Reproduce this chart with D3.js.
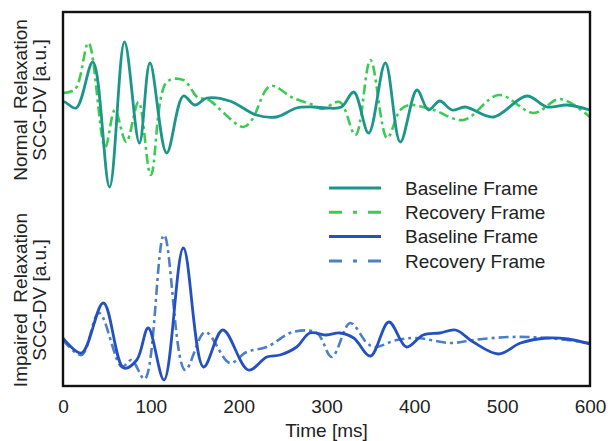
<!DOCTYPE html>
<html>
<head>
<meta charset="utf-8">
<script src="https://cdn.jsdelivr.net/npm/d3@7"></script>
<style>
  body { margin: 0; background: #fff; }
  text { font-family: "Liberation Sans", Arial, sans-serif; fill: #222; }
</style>
</head>
<body>
<div id="my_dataviz"></div>
<script>
var width = 608,
    height = 441,
    frame = {left: 63, right: 590, top: 12, bottom: 386},
    fontSize = "19px";

// time axis ticks
var xTicks = [0, 100, 200, 300, 400, 500, 600];

// Normal relaxation - baseline frame (solid teal)
var normBaseT = [0, 2, 15, 34, 53, 70, 87, 99, 118, 137, 150, 164, 190, 220, 243, 266, 285, 300, 317, 331, 348, 367, 384, 403, 416, 429, 443, 458, 490, 528, 551, 574, 600];
var normBaseV = [0.3, 0.3, -0.3, 4.3, -8.2, 6.3, -3.8, 4.2, -4.8, 0.9, 0, 0.7, 0.4, -1, -1.2, -0.3, -0.2, -0.3, -0.2, 1.3, -2.8, 4.2, -3.7, 1.5, -0.5, 0.4, -0.5, -0.2, -1.2, 0.9, -0.2, 0, -0.5];

// Normal relaxation - recovery frame (dash-dot green)
var normRecT = [0, 14, 29, 48, 59, 72, 86, 100, 118, 137, 154, 164, 205, 215, 236, 262, 285, 295, 315, 333, 350, 369, 384, 395, 422, 456, 496, 536, 566, 600];
var normRecV = [1.2, 1.6, 6.2, -4.2, -0.5, -3.7, 0.3, -7, 2.3, 2.5, 0.7, 0.6, -2.2, -1.5, 1.9, 0.7, 0, -0.4, 0.3, -3, 4.5, -3.3, -0.5, 0, -0.5, -1.5, 1, -0.8, 0.6, -1.2];

// Impaired relaxation - baseline frame (solid blue)
var impBaseT = [0, 21, 46, 69, 84, 97, 115, 137, 160, 182, 211, 232, 247, 266, 281, 300, 315, 331, 350, 371, 391, 410, 429, 447, 467, 496, 521, 551, 575, 600];
var impBaseV = [0.2, -1.3, 3.7, -2.8, -2, 1.2, -4, 9.2, -2.7, 1, -3, -1.7, -1.5, -0.7, 0.7, 0.5, 0.7, 0.2, -1.6, 1.8, -0.7, 0.5, 0.7, 1, -0.2, -1.4, -0.3, 0.2, 0.1, -0.4];

// Impaired relaxation - recovery frame (dash-dot light blue)
var impRecT = [0, 21, 41, 67, 78, 93, 115, 139, 162, 190, 209, 232, 262, 289, 306, 327, 346, 355, 380, 403, 441, 467, 509, 552, 600];
var impRecV = [0, -1.5, 2.7, -2.7, -2, -3.9, 10.5, -3, 0.8, -2.3, -1.2, -0.7, 0.8, 0.7, -1.7, 1.7, -0.3, -0.7, 0, 0.2, -0.3, 0, 0.3, 0.2, -0.3];

var legendLabels = ["Baseline Frame", "Recovery Frame", "Baseline Frame", "Recovery Frame"];

var cTeal = "#1c9688", cGreen = "#3ccb52", cBlue = "#2450c0", cLight = "#4d7fc6";
var dashDot = "10,4,3,4";

var svg = d3.select("#my_dataviz")
    .append("svg")
    .attr("width", width)
    .attr("height", height);

var x = d3.scaleLinear().domain([0, 600]).range([frame.left, frame.right]);
var yTop = d3.scaleLinear().domain([-9, 9]).range([195, 15]);
var yBot = d3.scaleLinear().domain([-5, 12]).range([390, 220]);

function zipT(t, v) { return t.map(function(d, i) { return [d, v[i]]; }); }

function drawLine(t, v, y, color, dash, w) {
    var line = d3.line()
        .x(function(d) { return x(d[0]); })
        .y(function(d) { return y(d[1]); })
        .curve(d3.curveCatmullRom.alpha(0.5));
    svg.append("path")
        .datum(zipT(t, v))
        .attr("fill", "none")
        .attr("stroke", color)
        .attr("stroke-width", w)
        .attr("stroke-dasharray", dash)
        .attr("stroke-linejoin", "round")
        .attr("d", line);
}

drawLine(normRecT, normRecV, yTop, cGreen, dashDot, 2.6);
drawLine(normBaseT, normBaseV, yTop, cTeal, null, 2.8);
drawLine(impRecT, impRecV, yBot, cLight, dashDot, 2.6);
drawLine(impBaseT, impBaseV, yBot, cBlue, null, 2.8);

// frame
svg.append("rect")
    .attr("x", frame.left)
    .attr("y", frame.top)
    .attr("width", frame.right - frame.left)
    .attr("height", frame.bottom - frame.top)
    .attr("fill", "none")
    .attr("stroke", "#111")
    .attr("stroke-width", 2.4);

// x axis
var xAxis = svg.append("g")
    .attr("transform", `translate(0,${frame.bottom})`)
    .call(d3.axisBottom(x).tickValues(xTicks).tickSize(0).tickPadding(14));
xAxis.select(".domain").remove();
xAxis.selectAll("text")
    .style("font-size", fontSize)
    .style("font-family", '"Liberation Sans", Arial, sans-serif')
    .attr("fill", "#222");

svg.append("text")
    .attr("x", x(300))
    .attr("y", 437)
    .attr("text-anchor", "middle")
    .style("font-size", fontSize)
    .text("Time [ms]");

// y labels
var yLabels = [
    {text: "Normal  Relaxation", x: 27, y: 100},
    {text: "SCG-DV [a.u.]", x: 46, y: 100},
    {text: "Impaired  Relaxation", x: 27, y: 300},
    {text: "SCG-DV [a.u.]", x: 46, y: 300}
];
svg.selectAll(".ylab")
    .data(yLabels)
    .enter().append("text")
    .attr("class", "ylab")
    .attr("transform", function(d) { return `translate(${d.x},${d.y}) rotate(-90)`; })
    .attr("text-anchor", "middle")
    .style("font-size", fontSize)
    .style("white-space", "pre")
    .text(function(d) { return d.text; });

// legend
var legColors = [cTeal, cGreen, cBlue, cLight];
var legDash = [null, "13,11,4,11", null, "13,11,4,11"];
var leg = svg.append("g");
legendLabels.forEach(function(lab, i) {
    var yy = 188 + i * 24.3;
    leg.append("line")
        .attr("x1", 329).attr("x2", 381)
        .attr("y1", yy).attr("y2", yy)
        .attr("stroke", legColors[i])
        .attr("stroke-width", 3)
        .attr("stroke-dasharray", legDash[i]);
    leg.append("text")
        .attr("x", 405)
        .attr("y", yy)
        .attr("dy", "0.35em")
        .style("font-size", fontSize)
        .text(lab);
});
</script>
</body>
</html>
